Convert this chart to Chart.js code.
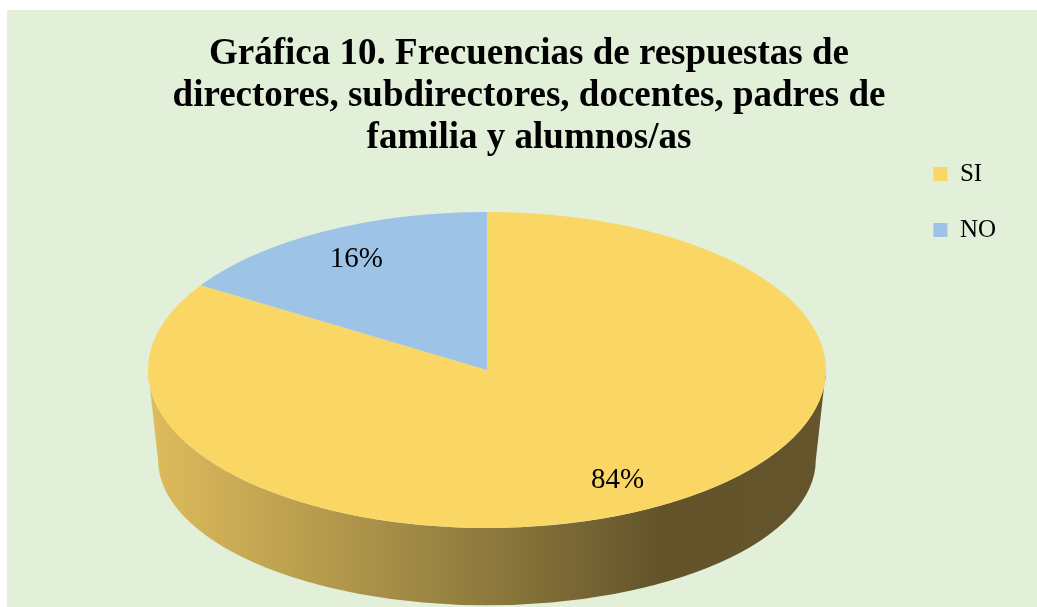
<!DOCTYPE html>
<html>
<head>
<meta charset="utf-8">
<script src="https://cdn.jsdelivr.net/npm/chart.js@4.4.0/dist/chart.umd.min.js"></script>
<style>
  html, body { margin: 0; padding: 0; background: #fff; }
  #wrap {
    position: absolute; left: 7px; top: 10px;
    width: 1030px; height: 597px; background: #e2efd9;
  }
</style>
</head>
<body>
<div id="wrap"><canvas id="pie" width="1030" height="597"></canvas></div>
<script>
const titleLines = [
  "Gráfica 10. Frecuencias de respuestas de",
  "directores, subdirectores, docentes, padres de",
  "familia y alumnos/as",
];
const labels = ["SI", "NO"];
const values = [84, 16];
const colors = ["#fad765", "#9dc3e6"];

// look of the fake 3d disc
const tilt = 0.466;     // vertical squash of the top face
const depth = 90;       // thickness of the side
const sideStops = [
  [0, "#dfbc5c"],
  [0.34, "#a89048"],
  [0.55, "#86733a"],
  [0.76, "#62532b"],
  [1, "#65552c"],
];

const fmtPct = (v) => {
  const total = values.reduce((a, b) => a + b, 0);
  return Math.round((v / total) * 100) + "%";
};

const disc3d = {
  id: "disc3d",
  beforeDatasetsDraw(chart) {
    const ctx = chart.ctx;
    const arcs = chart.getDatasetMeta(0).data;
    if (!arcs.length) return;
    const { x, y, outerRadius: r } = arcs[0].getProps(["x", "y", "outerRadius"]);
    const grad = ctx.createLinearGradient(x - r, 0, x + r, 0);
    sideStops.forEach(([p, c]) => grad.addColorStop(p, c));

    ctx.save();
    // front half of the rim, only where a slice faces the viewer
    for (const arc of arcs) {
      const { startAngle, endAngle } = arc.getProps(["startAngle", "endAngle"]);
      for (const off of [-2 * Math.PI, 0, 2 * Math.PI]) {
        const a = Math.max(startAngle, off);
        const b = Math.min(endAngle, Math.PI + off);
        if (b <= a) continue;
        ctx.beginPath();
        ctx.ellipse(x, y, r, r * tilt, 0, a, b);
        ctx.ellipse(x, y + depth, r * 0.97, r * tilt * 0.92, 0, b, a, true);
        ctx.closePath();
        ctx.fillStyle = grad;
        ctx.fill();
      }
    }
    ctx.restore();

    // squash the real pie into the top face
    ctx.save();
    ctx.translate(x, y);
    ctx.scale(1, tilt);
    ctx.translate(-x, -y);
  },
  afterDatasetsDraw(chart) {
    const ctx = chart.ctx;
    ctx.restore();
    const arcs = chart.getDatasetMeta(0).data;
    ctx.save();
    ctx.font = "29px 'Liberation Serif'";
    ctx.fillStyle = "#000";
    ctx.textAlign = "center";
    ctx.textBaseline = "middle";
    arcs.forEach((arc, i) => {
      const { x, y, startAngle, endAngle, outerRadius } = arc.getProps([
        "x", "y", "startAngle", "endAngle", "outerRadius",
      ]);
      const mid = (startAngle + endAngle) / 2;
      const rr = outerRadius * 0.8;
      ctx.fillText(
        fmtPct(values[i]),
        x + Math.cos(mid) * rr,
        y + Math.sin(mid) * rr * tilt
      );
    });
    ctx.restore();
  },
};

new Chart(document.getElementById("pie"), {
  type: "pie",
  data: {
    labels,
    datasets: [
      {
        data: values,
        backgroundColor: colors,
        borderWidth: 0,
        radius: 339,
        clip: false,
      },
    ],
  },
  options: {
    responsive: false,
    animation: false,
    layout: { padding: { left: 45, right: 31, top: 0, bottom: 17 } },
    plugins: {
      tooltip: { enabled: false },
      title: {
        display: true,
        text: titleLines,
        color: "#000",
        font: { family: "'Liberation Serif'", size: 37, weight: "bold", lineHeight: 42 / 37 },
        padding: { top: 23, bottom: -9 },
      },
      legend: {
        position: "right",
        align: "start",
        fullSize: false,
        labels: {
          color: "#000",
          font: { family: "'Liberation Serif'", size: 25, lineHeight: 1.78 },
          boxWidth: 14,
          boxHeight: 14,
          padding: 11.5,
          // array text so the row pitch follows the font lineHeight
          generateLabels(chart) {
            return Chart.overrides.pie.plugins.legend.labels
              .generateLabels(chart)
              .map((item) => ({ ...item, text: [item.text] }));
          },
        },
      },
    },
  },
  plugins: [disc3d],
});
</script>
</body>
</html>
